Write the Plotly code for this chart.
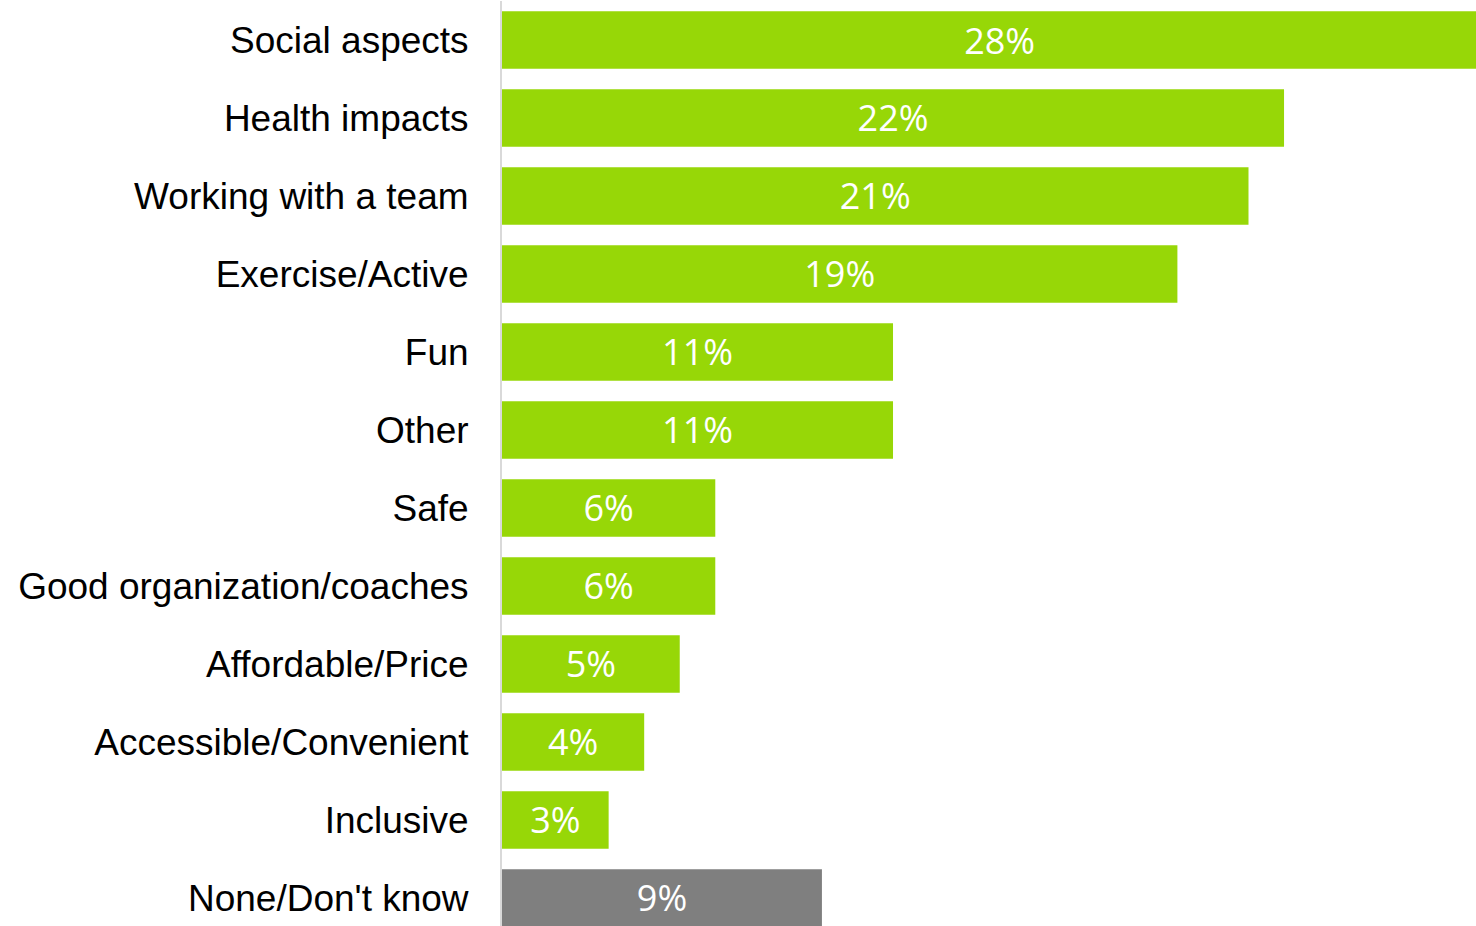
import plotly.graph_objects as go

# Survey responses: what people like about the activity
categories = [
    "Social aspects",
    "Health impacts",
    "Working with a team",
    "Exercise/Active",
    "Fun",
    "Other",
    "Safe",
    "Good organization/coaches",
    "Affordable/Price",
    "Accessible/Convenient",
    "Inclusive",
    "None/Don't know",
]
values = [28, 22, 21, 19, 11, 11, 6, 6, 5, 4, 3, 9]
labels = [f"{v}%" for v in values]

GREEN = "#97D707"
GREY = "#7F7F7F"
colors = [GREY if c == "None/Don't know" else GREEN for c in categories]

fig = go.Figure(
    go.Bar(
        x=values,
        y=categories,
        orientation="h",
        marker=dict(color=colors, line=dict(width=0)),
        text=labels,
        textposition="inside",
        insidetextanchor="middle",
        textangle=0,
        textfont=dict(family="Open Sans", size=36, color="white"),
        constraintext="none",
        hoverinfo="skip",
    )
)

fig.update_layout(
    width=1476,
    height=926,
    margin=dict(l=502, r=0, t=1, b=0),
    paper_bgcolor="white",
    plot_bgcolor="white",
    bargap=0.263,
    showlegend=False,
    uniformtext=dict(mode=False),
)

fig.update_xaxes(
    range=[0, 27.4],
    visible=False,
    showgrid=False,
    zeroline=False,
)

fig.update_yaxes(
    categoryorder="array",
    categoryarray=categories,
    range=[11.36, -0.5],
    showgrid=False,
    zeroline=False,
    showline=True,
    linecolor="#D9D9D9",
    linewidth=2,
    ticks="",
    ticklabelstandoff=24,
    tickfont=dict(family="Liberation Sans, Arial", size=37, color="black"),
)

fig.write_html("out.html")
